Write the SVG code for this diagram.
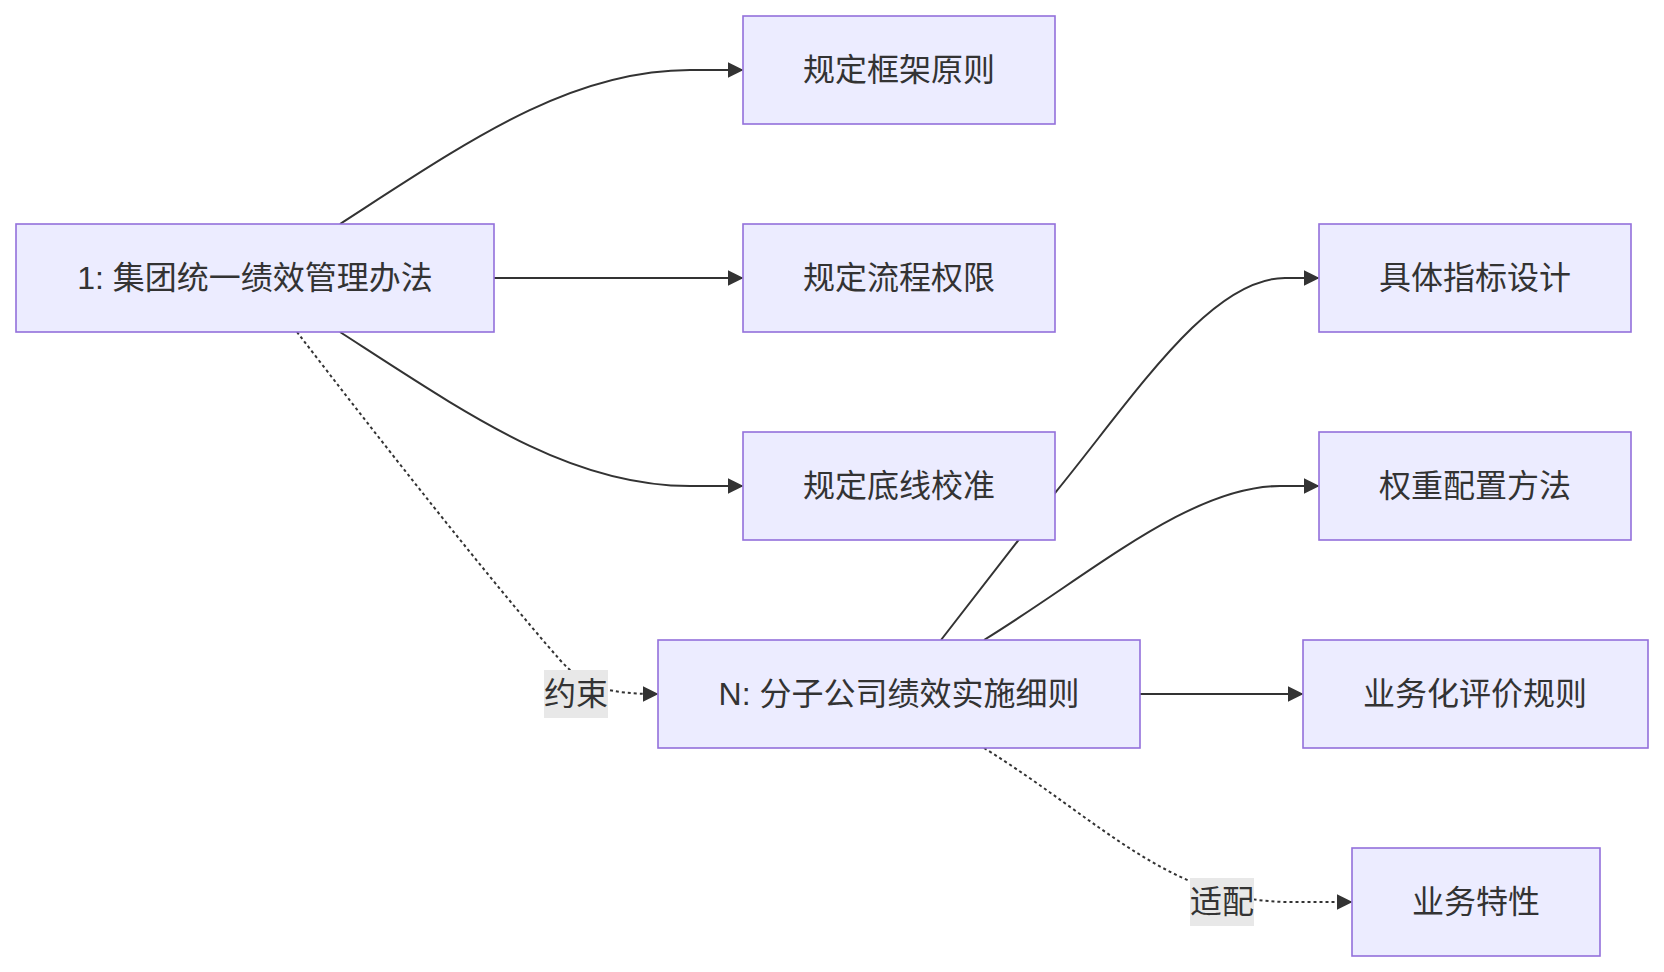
<svg xmlns="http://www.w3.org/2000/svg" width="1664" height="972" viewBox="0 0 1664 972">
<style>
.node rect{fill:#ECECFF;stroke:#9370DB;stroke-width:1.6}
.node text,.lbl text{font-family:"Liberation Sans","Noto Sans CJK SC",sans-serif;font-size:32px;fill:#333;text-anchor:middle;dominant-baseline:central}
.edge{fill:none;stroke:#333;stroke-width:2}
.dot{stroke-dasharray:3 3}
.lbl rect{fill:#e8e8e8}
</style>
<defs>
<marker id="arrow" markerUnits="userSpaceOnUse" markerWidth="16" markerHeight="16" viewBox="0 0 10 10" refX="9" refY="5" orient="auto">
<path d="M0,0 L10,5 L0,10 z" fill="#333"/>
</marker>
</defs>
<rect width="1664" height="972" fill="#fff"/>
<g id="edges">
<path class="edge" d="M340,224 C470,140 570,70 690,70 L742,70" marker-end="url(#arrow)"/>
<path class="edge" d="M494,278 L742,278" marker-end="url(#arrow)"/>
<path class="edge" d="M340,332 C470,416 570,486 690,486 L742,486" marker-end="url(#arrow)"/>
<path class="edge dot" d="M297,332 C380,440 490,580 560,660 C585,688 610,694 657,694" marker-end="url(#arrow)"/>
<path class="edge" d="M941,640 L1055,493 C1135,395 1210,278 1285,278 L1318,278" marker-end="url(#arrow)"/>
<path class="edge" d="M984,640 C1090,575 1190,486 1280,486 L1318,486" marker-end="url(#arrow)"/>
<path class="edge" d="M1140,694 L1302,694" marker-end="url(#arrow)"/>
<path class="edge dot" d="M984,748 C1100,820 1170,902 1290,902 L1351,902" marker-end="url(#arrow)"/>
<g class="lbl"><rect x="544" y="670" width="64" height="48"/><text x="576" y="694">约束</text></g>
<g class="lbl"><rect x="1190" y="878" width="64" height="48"/><text x="1222" y="902">适配</text></g>
</g>
<g id="n1" class="node"><rect x="16" y="224" width="478" height="108"/><text x="255" y="278">1: 集团统一绩效管理办法</text></g>
<g id="n2" class="node"><rect x="743" y="16" width="312" height="108"/><text x="899" y="70">规定框架原则</text></g>
<g id="n3" class="node"><rect x="743" y="224" width="312" height="108"/><text x="899" y="278">规定流程权限</text></g>
<g id="n4" class="node"><rect x="743" y="432" width="312" height="108"/><text x="899" y="486">规定底线校准</text></g>
<g id="n5" class="node"><rect x="658" y="640" width="482" height="108"/><text x="899" y="694">N: 分子公司绩效实施细则</text></g>
<g id="n6" class="node"><rect x="1319" y="224" width="312" height="108"/><text x="1475" y="278">具体指标设计</text></g>
<g id="n7" class="node"><rect x="1319" y="432" width="312" height="108"/><text x="1475" y="486">权重配置方法</text></g>
<g id="n8" class="node"><rect x="1303" y="640" width="345" height="108"/><text x="1475" y="694">业务化评价规则</text></g>
<g id="n9" class="node"><rect x="1352" y="848" width="248" height="108"/><text x="1476" y="902">业务特性</text></g>
</svg>
